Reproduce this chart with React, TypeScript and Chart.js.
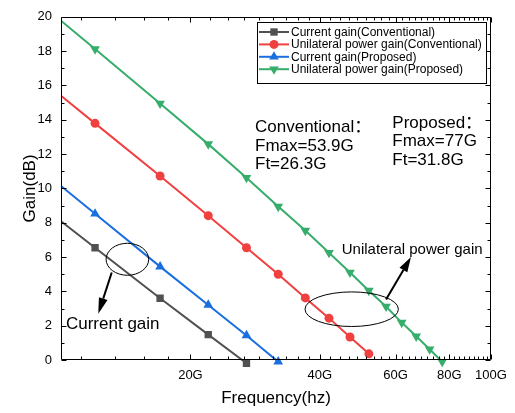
import React, { useEffect, useRef } from 'react';
import { Chart, registerables } from 'chart.js';

Chart.register(...registerables);

// ---- data (frequency in GHz, gain in dB) ----
const freqGHz = [7, 12, 17, 22, 27, 32, 37, 42, 47, 52, 57, 62, 67, 72, 77];
const currentGainConv = [11.1, 6.54, 3.6, 1.48, -0.19];
const upgConv = [18.54, 13.79, 10.72, 8.41, 6.54, 5.0, 3.62, 2.44, 1.34, 0.36];
const currentGainProp = [13.3, 8.52, 5.44, 3.21, 1.43, -0.1];
const upgProp = [23.0, 18.12, 14.95, 12.58, 10.62, 8.94, 7.54, 6.25, 5.1, 4.04, 3.12, 2.18, 1.38, 0.63, -0.1];

const seriesLabels = [
  'Current gain(Conventional)',
  'Unilateral power gain(Conventional)',
  'Current gain(Proposed)',
  'Unilateral power gain(Proposed)',
];
const seriesColors = ['#515151', '#F14040', '#1A6FDF', '#37AD6B'];
const seriesMarkers = ['rect', 'circle', 'triangle', 'triangleDown'];

const xTickValues = [20, 40, 60, 80, 100];
const xMin = 10;
const xMax = 100;
const yMin = 0;
const yMax = 20;

const FONT = '"Liberation Sans", Arial, "Noto Sans CJK SC", sans-serif';

function markerRadius(style: string) {
  if (style === 'rect') return 5.2;
  if (style === 'circle') return 4.5;
  return 5.6;
}

function drawMarker(ctx: CanvasRenderingContext2D, style: string, x: number, y: number, r: number, color: string) {
  ctx.save();
  ctx.fillStyle = color;
  ctx.beginPath();
  if (style === 'rect') {
    const s = r * Math.SQRT1_2;
    ctx.rect(x - s, y - s, 2 * s, 2 * s);
  } else if (style === 'circle') {
    ctx.arc(x, y, r, 0, Math.PI * 2);
  } else {
    const d = style === 'triangle' ? 1 : -1;
    ctx.moveTo(x, y - d * r);
    ctx.lineTo(x + 0.866 * r, y + d * r / 2);
    ctx.lineTo(x - 0.866 * r, y + d * r / 2);
    ctx.closePath();
  }
  ctx.fill();
  ctx.restore();
}

function arrow(ctx: CanvasRenderingContext2D, x1: number, y1: number, x2: number, y2: number, headLen: number, headW: number) {
  const ang = Math.atan2(y2 - y1, x2 - x1);
  const bx = x2 - Math.cos(ang) * headLen;
  const by = y2 - Math.sin(ang) * headLen;
  ctx.beginPath();
  ctx.moveTo(x1, y1);
  ctx.lineTo(bx, by);
  ctx.stroke();
  ctx.beginPath();
  ctx.moveTo(x2, y2);
  ctx.lineTo(bx + Math.sin(ang) * headW / 2, by - Math.cos(ang) * headW / 2);
  ctx.lineTo(bx - Math.sin(ang) * headW / 2, by + Math.cos(ang) * headW / 2);
  ctx.closePath();
  ctx.fill();
}

const decorPlugin = {
  id: 'decor',
  afterDraw(chart: any) {
    const { ctx, chartArea: ca, scales } = chart;
    const xs = scales.x;
    const ys = scales.y;
    const L = Math.round(ca.left) + 0.5;
    const R = Math.round(ca.right) - 0.5;
    const T = Math.round(ca.top) + 0.5;
    const B = Math.round(ca.bottom) - 0.5;
    ctx.save();
    ctx.strokeStyle = '#000';
    ctx.lineWidth = 1;
    ctx.beginPath();
    ctx.moveTo(L, T); ctx.lineTo(R, T); ctx.lineTo(R, B); ctx.lineTo(L, B); ctx.closePath();
    ctx.stroke();

    // x ticks (major every 20G, minor every 20/9 G), inward on bottom and top
    for (let k = 1; k <= 45; k++) {
      const v = (k * 20) / 9;
      if (v < xMin - 1e-6 || v > xMax + 1e-6) continue;
      const px = Math.round(xs.getPixelForValue(v)) + 0.5;
      const len = k % 9 === 0 ? 5 : 3;
      ctx.beginPath();
      ctx.moveTo(px, B); ctx.lineTo(px, B - len);
      ctx.moveTo(px, T); ctx.lineTo(px, T + len);
      ctx.stroke();
    }
    // y ticks
    for (let v = yMin; v <= yMax; v++) {
      const py = Math.round(ys.getPixelForValue(v)) + 0.5;
      const len = v % 2 === 0 ? 5 : 3;
      ctx.beginPath();
      ctx.moveTo(L, py); ctx.lineTo(L + len, py);
      ctx.moveTo(R, py); ctx.lineTo(R - len, py);
      ctx.stroke();
    }

    // legend
    const lx = 257, ly = 22, lw = 230, lh = 62;
    ctx.fillStyle = '#fff';
    ctx.fillRect(lx, ly, lw, lh);
    ctx.strokeRect(lx + 0.5, ly + 0.5, lw - 1, lh - 1);
    ctx.font = `12px ${FONT}`;
    ctx.textBaseline = 'middle';
    ctx.textAlign = 'left';
    for (let i = 0; i < seriesLabels.length; i++) {
      const yy = ly + 10 + i * 12.4;
      ctx.strokeStyle = seriesColors[i];
      ctx.lineWidth = 2;
      ctx.beginPath();
      ctx.moveTo(lx + 2, yy); ctx.lineTo(lx + 32, yy);
      ctx.stroke();
      drawMarker(ctx, seriesMarkers[i], lx + 17, yy, markerRadius(seriesMarkers[i]), seriesColors[i]);
      ctx.fillStyle = '#000';
      ctx.fillText(seriesLabels[i], lx + 34, yy + 0.5);
    }

    // annotations (anchored in data coordinates)
    const X = (f: number) => xs.getPixelForValue(f);
    const Y = (g: number) => ys.getPixelForValue(g);
    ctx.fillStyle = '#000';
    ctx.strokeStyle = '#000';
    ctx.textBaseline = 'alphabetic';
    ctx.font = `17px ${FONT}`;
    ctx.fillText('Conventional：', X(28.26), Y(13.31));
    ctx.fillText('Fmax=53.9G', X(28.26), Y(12.16));
    ctx.fillText('Ft=26.3G', X(28.26), Y(11.15));
    ctx.fillText('Proposed：', X(58.95), Y(13.5));
    ctx.fillText('Fmax=77G', X(58.95), Y(12.45));
    ctx.fillText('Ft=31.8G', X(58.95), Y(11.35));

    ctx.font = `17px ${FONT}`;
    ctx.fillText('Current gain', X(10.27), Y(1.79));
    ctx.font = `15px ${FONT}`;
    ctx.fillText('Unilateral power gain', X(44.96), Y(6.16));

    ctx.lineWidth = 1;
    ctx.beginPath();
    ctx.ellipse(X(14.27), Y(5.87), 21.3, 16, 0, 0, Math.PI * 2);
    ctx.stroke();
    ctx.beginPath();
    ctx.ellipse(X(47.43), Y(2.96), 46.7, 17.3, 0, 0, Math.PI * 2);
    ctx.stroke();

    ctx.lineWidth = 2;
    arrow(ctx, X(13.12), Y(5.1), X(12.21), Y(2.69), 16, 9);
    arrow(ctx, X(57.0), Y(3.52), X(65.16), Y(6.0), 15, 9);
    ctx.restore();
  },
};

function makeSeries(values: number[]) {
  return values.map((v, i) => ({ x: freqGHz[i], y: v }));
}

export default function App() {
  const ref = useRef<HTMLCanvasElement>(null);
  useEffect(() => {
    if (!ref.current) return;
    const allValues = [currentGainConv, upgConv, currentGainProp, upgProp];
    const chart = new Chart(ref.current, {
      type: 'line',
      data: {
        datasets: allValues.map((vals, i) => ({
          label: seriesLabels[i],
          data: makeSeries(vals),
          borderColor: seriesColors[i],
          backgroundColor: seriesColors[i],
          borderWidth: 2,
          pointStyle: seriesMarkers[i] === 'triangleDown' ? 'triangle' : seriesMarkers[i],
          rotation: seriesMarkers[i] === 'triangleDown' ? 180 : 0,
          pointRadius: markerRadius(seriesMarkers[i]),
          pointBorderWidth: 0,
          tension: 0,
          clip: { left: 0, top: 0, right: 0, bottom: 10 },
        })),
      },
      options: {
        animation: false,
        responsive: true,
        maintainAspectRatio: false,
        layout: { padding: { left: 0, top: 13, right: 24, bottom: 0 } },
        plugins: { legend: { display: false }, tooltip: { enabled: false } },
        scales: {
          x: {
            type: 'logarithmic',
            min: xMin,
            max: xMax,
            afterBuildTicks: (scale: any) => {
              scale.ticks = xTickValues.map((v) => ({ value: v }));
            },
            afterFit: (scale: any) => {
              scale.height = 53;
            },
            grid: { display: false, drawTicks: false },
            border: { display: false },
            ticks: {
              autoSkip: false,
              maxRotation: 0,
              padding: 8,
              color: '#000',
              font: { family: FONT, size: 13 },
              callback: (v: any) => `${v}G`,
            },
            title: {
              display: true,
              text: 'Frequency(hz)',
              color: '#000',
              font: { family: FONT, size: 17 },
              padding: { top: 0, bottom: 4 },
            },
          },
          y: {
            type: 'linear',
            min: yMin,
            max: yMax,
            afterFit: (scale: any) => {
              scale.width = 61;
            },
            grid: { display: false, drawTicks: false },
            border: { display: false },
            ticks: {
              stepSize: 2,
              padding: 9,
              color: '#000',
              font: { family: FONT, size: 13 },
            },
            title: {
              display: true,
              text: 'Gain(dB)',
              color: '#000',
              font: { family: FONT, size: 17 },
              padding: { top: 20, bottom: 0 },
            },
          },
        },
      },
      plugins: [decorPlugin],
    });
    return () => chart.destroy();
  }, []);
  return (
    <div style={{ position: 'fixed', left: 0, top: 0, width: 515, height: 413, background: '#fff' }}>
      <canvas ref={ref} />
    </div>
  );
}
